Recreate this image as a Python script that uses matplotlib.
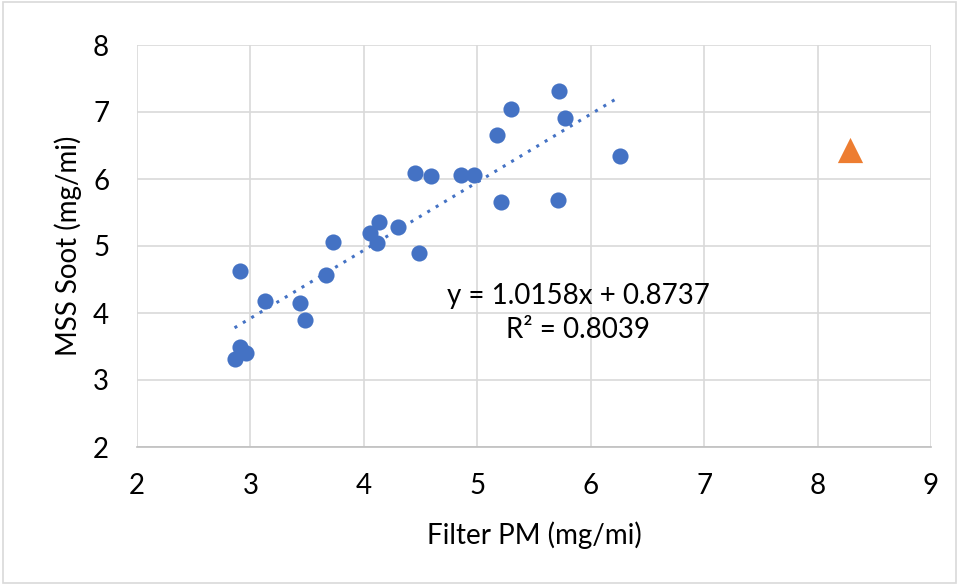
import matplotlib
matplotlib.use("Agg")
import matplotlib.pyplot as plt
import numpy as np
from matplotlib.patches import Rectangle

# Data
filter_pm = [2.86, 2.91, 2.96, 2.91, 3.13, 3.44, 3.48, 3.67, 3.73, 4.05, 4.13, 4.12,
             4.30, 4.49, 4.45, 4.59, 4.86, 4.97, 5.17, 5.21, 5.30, 5.72, 5.71, 5.77, 6.26]
mss_soot = [3.32, 3.49, 3.40, 4.63, 4.18, 4.15, 3.90, 4.56, 5.06, 5.19, 5.36, 5.04,
            5.28, 4.90, 6.09, 6.05, 6.06, 6.06, 6.65, 5.66, 7.05, 7.32, 5.69, 6.91, 6.35]
outlier_x = [8.29]
outlier_y = [6.43]
slope = 1.0158
intercept = 0.8737
r2 = 0.8039
x_ticks = [2, 3, 4, 5, 6, 7, 8, 9]
y_ticks = [2, 3, 4, 5, 6, 7, 8]

plt.rcParams['font.family'] = ['Lato', 'DejaVu Sans']

fig = plt.figure(figsize=(9.59, 5.85), dpi=100)
ax = fig.add_axes([137/959, 1-447/585, (931-137)/959, (447-45)/585])

ax.set_xlim(2, 9)
ax.set_ylim(2, 8)
ax.set_xticks(x_ticks)
ax.set_yticks(y_ticks)
ax.grid(True, color='#D9D9D9', linewidth=1.2)
ax.set_axisbelow(True)
for s in ['top', 'right', 'left']:
    ax.spines[s].set_visible(False)
ax.spines['bottom'].set_color('#BFBFBF')
ax.spines['bottom'].set_linewidth(1.2)
ax.tick_params(length=0, labelsize=20, colors='black')
ax.tick_params(axis='x', pad=19)
ax.tick_params(axis='y', pad=20)

# trendline
tx = np.array([min(filter_pm), max(filter_pm)])
ty = slope * tx + intercept
ax.plot(tx, ty, linestyle=(0, (1, 2.2)), color='#4472C4', linewidth=2.2, zorder=2)

ax.scatter(filter_pm, mss_soot, s=135, color='#4472C4', zorder=3, linewidths=0)
ax.scatter(outlier_x, outlier_y, s=330, marker='^', color='#ED7D31', zorder=3, linewidths=0)

ax.text(5.89, 4.25, f"y = {slope}x + {intercept}", ha='center', va='center', fontsize=20)
ax.text(5.89, 3.75, f"R² = {r2}", ha='center', va='center', fontsize=20)

ax.set_xlabel("Filter PM (mg/mi)", fontsize=20, labelpad=16)
ax.set_ylabel("MSS Soot (mg/mi)", fontsize=20, labelpad=8)

fig.patches.append(Rectangle((0.003, 0.003), 0.994, 0.994, transform=fig.transFigure,
                             fill=False, edgecolor='#D9D9D9', linewidth=1.2))

fig.savefig("out.png", dpi=100)
